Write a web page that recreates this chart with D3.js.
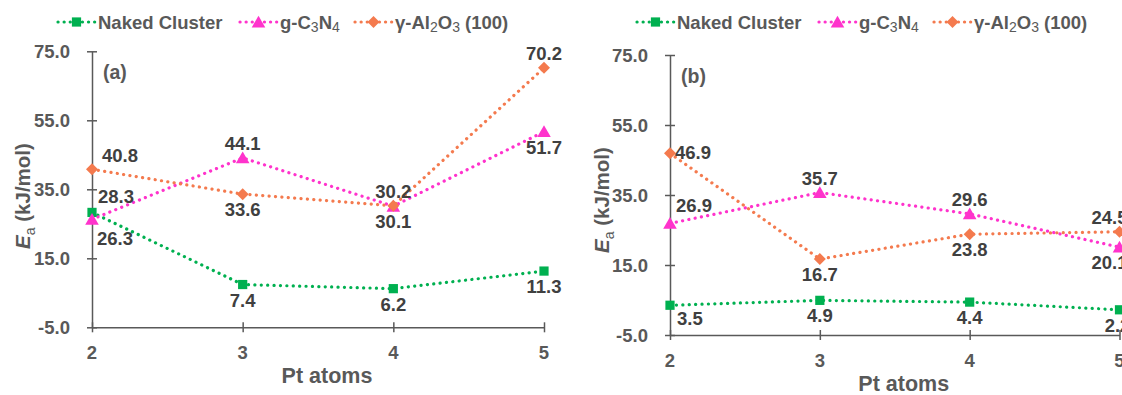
<!DOCTYPE html>
<html><head><meta charset="utf-8">
<script src="https://cdn.jsdelivr.net/npm/d3@7/dist/d3.min.js"></script>
<style>
body{margin:0;background:#fff;overflow:hidden}
svg{display:block;font-family:Arial,"Liberation Sans",sans-serif}
</style></head>
<body><svg id="c" width="1122" height="395"></svg>
<script>
// ---- data ----
const xCategories = [2, 3, 4, 5];
const yTicks = [-5, 15, 35, 55, 75];
const seriesNames = ["Naked Cluster", "g-C3N4", "γ-Al2O3 (100)"];
const panelA_naked = [28.3, 7.4, 6.2, 11.3];
const panelA_gcn = [26.3, 44.1, 30.1, 51.7];
const panelA_al2o3 = [40.8, 33.6, 30.2, 70.2];
const panelB_naked = [3.5, 4.9, 4.4, 2.2];
const panelB_gcn = [26.9, 35.7, 29.6, 20.1];
const panelB_al2o3 = [46.9, 16.7, 23.8, 24.5];

// ---- label placement (style, not data) ----
const placeA = [
  ["aboveRight","below","below","below"],
  ["belowRight","above","below","below"],
  ["aboveRight2","below","above","above"]
];
const placeB = [
  ["belowRight2","below","below","belowEdge2"],
  ["aboveRight3","above","above","belowEdge"],
  ["right","below","below","aboveEdge"]
];

const colors = ["#00B050", "#FF33CC", "#F47A4E"];
const symbols = [d3.symbolSquare, d3.symbolTriangle, d3.symbolSquare];
const symRot = [0, 0, 45];
const symSizes = [85, 80, 72];
const axisColor = "#595959";
const labelColor = "#404040";

const svg = d3.select("#c");

const offsets = {
  above: [0, -8, "middle"],
  below: [0, 22, "middle"],
  aboveRight: [6, -9, "start"],
  aboveRight2: [10, -7, "start"],
  aboveRight3: [6, -11, "start"],
  belowRight: [5, 26, "start"],
  belowRight2: [7, 20, "start"],
  right: [5, 6, "start"],
  aboveEdge: [-10, -8, "middle"],
  belowEdge: [-10, 22, "middle"],
  belowEdge2: [-2, 22, "middle"]
};

const fmt = d => d.toFixed(1);

function drawPanel(cfg) {
  const x = d3.scaleLinear().domain([2, 5]).range(cfg.xr);
  const y = d3.scaleLinear().domain([-5, 75]).range(cfg.yr);
  const g = svg.append("g");

  // y axis (lines via d3 axis, labels as plain text)
  const ya = d3.axisLeft(y).tickValues(yTicks).tickFormat("").tickSizeInner(0).tickSizeOuter(0);
  const yg = g.append("g").attr("transform", `translate(${cfg.xr[0]},0)`).call(ya);
  yg.select(".domain").attr("stroke", axisColor).attr("stroke-width", 1.5);
  yg.selectAll(".tick line").attr("x1", -5).attr("x2", 5).attr("stroke", axisColor).attr("stroke-width", 1.5);
  g.selectAll(null).data(yTicks).enter().append("text")
    .attr("x", cfg.xr[0] - 22).attr("y", d => y(d) + 6.5)
    .attr("text-anchor", "end").attr("fill", axisColor)
    .style("font-size", "18.5px").style("font-weight", "bold").text(fmt);

  // x axis
  const xa = d3.axisBottom(x).tickValues(xCategories).tickFormat("").tickSizeInner(0).tickSizeOuter(0);
  const xg = g.append("g").attr("transform", `translate(0,${cfg.yr[0]})`).call(xa);
  xg.select(".domain").attr("stroke", axisColor).attr("stroke-width", 1.5);
  xg.selectAll(".tick line").attr("y1", -5).attr("y2", 5).attr("stroke", axisColor).attr("stroke-width", 1.5);
  g.selectAll(null).data(xCategories).enter().append("text")
    .attr("x", d => x(d)).attr("y", cfg.yr[0] + 32)
    .attr("text-anchor", "middle").attr("fill", axisColor)
    .style("font-size", "18.5px").style("font-weight", "bold").text(d3.format("d"));

  // axis titles
  g.append("text").attr("x", (cfg.xr[0] + cfg.xr[1]) / 2 + 9).attr("y", cfg.yr[0] + 56)
    .attr("text-anchor", "middle").attr("fill", axisColor)
    .style("font-size", "21.5px").style("font-weight", "bold").text("Pt atoms");
  const yt = g.append("text").attr("transform", `translate(${cfg.ytx},${cfg.yty}) rotate(-90)`)
    .attr("text-anchor", "middle").attr("fill", axisColor)
    .style("font-size", "20.5px").style("font-weight", "bold");
  yt.append("tspan").style("font-style", "italic").text("E");
  yt.append("tspan").attr("dy", 5).style("font-size", "14px").style("font-weight", "normal").text("a");
  yt.append("tspan").attr("dy", -5).text(" (kJ/mol)");

  // panel label
  g.append("text").attr("x", cfg.xr[0] + 11).attr("y", cfg.yr[1] + 28)
    .attr("fill", axisColor).style("font-size", "19.5px").style("font-weight", "bold").text(cfg.tag);

  const line = d3.line().x((d, i) => x(xCategories[i])).y(d => y(d));

  cfg.series.forEach((vals, s) => {
    g.append("path").datum(vals).attr("d", line).attr("fill", "none")
      .attr("stroke", colors[s]).attr("stroke-width", 3.2)
      .attr("stroke-linecap", "round").attr("stroke-dasharray", "0.1 6.3");
  });
  cfg.series.forEach((vals, s) => {
    g.selectAll(null).data(vals).enter().append("path")
      .attr("d", d3.symbol().type(symbols[s]).size(symSizes[s]))
      .attr("transform", (d, i) => `translate(${x(xCategories[i])},${y(d) + (s === 1 ? 1.5 : 0)}) rotate(${symRot[s]})`)
      .attr("fill", colors[s]);
  });
  cfg.series.forEach((vals, s) => {
    g.selectAll(null).data(vals).enter().append("text")
      .attr("x", (d, i) => x(xCategories[i]) + offsets[cfg.place[s][i]][0])
      .attr("y", (d, i) => y(d) + offsets[cfg.place[s][i]][1])
      .attr("text-anchor", (d, i) => offsets[cfg.place[s][i]][2])
      .attr("fill", labelColor).style("font-size", "18.5px").style("font-weight", "bold")
      .text(fmt);
  });

  // legend
  const lg = g.append("g").attr("transform", `translate(${cfg.legX},${cfg.legY})`);
  const legItems = [
    {off: 0, parts: [["Naked Cluster", null]]},
    {off: 182, parts: [["g-C", null], ["3", "sub"], ["N", null], ["4", "sub"]]},
    {off: 297, parts: [["γ-Al", null], ["2", "sub"], ["O", null], ["3", "sub"], [" (100)", null]]}
  ];
  legItems.forEach((it, s) => {
    const ig = lg.append("g").attr("transform", `translate(${it.off},0)`);
    ig.append("line").attr("x1", 0).attr("x2", 37).attr("y1", 0).attr("y2", 0)
      .attr("stroke", colors[s]).attr("stroke-width", 3.2).attr("stroke-linecap", "round")
      .attr("stroke-dasharray", "0.1 6");
    ig.append("path").attr("d", d3.symbol().type(symbols[s]).size(symSizes[s]))
      .attr("transform", `translate(18.5,${s === 1 ? 1.5 : 0}) rotate(${symRot[s]})`).attr("fill", colors[s]);
    const t = ig.append("text").attr("x", 40).attr("y", 7).attr("fill", axisColor)
      .style("font-size", "18.5px").style("font-weight", "bold");
    let sub = false;
    it.parts.forEach(p => {
      const ts = t.append("tspan").text(p[0]);
      if (p[1] === "sub") { ts.style("font-size", "14px").style("font-weight", "normal").attr("dy", sub ? 0 : 3); sub = true; }
      else if (sub) { ts.attr("dy", -3); sub = false; }
    });
  });
}

drawPanel({
  xr: [92, 544], yr: [327.3, 51.3], tag: "(a)", ytx: 30, yty: 196,
  series: [panelA_naked, panelA_gcn, panelA_al2o3], place: placeA,
  legX: 58, legY: 22
});
drawPanel({
  xr: [670, 1119.5], yr: [335, 55], tag: "(b)", ytx: 609, yty: 200,
  series: [panelB_naked, panelB_gcn, panelB_al2o3], place: placeB,
  legX: 637, legY: 22
});
</script></body></html>
